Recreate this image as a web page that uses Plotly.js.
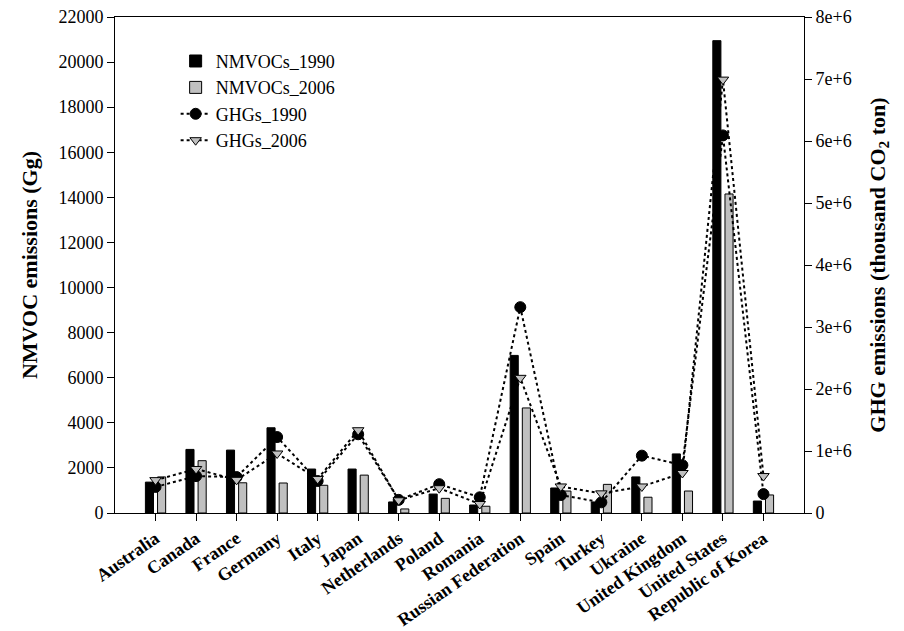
<!DOCTYPE html>
<html>
<head>
<meta charset="utf-8">
<script src="https://cdn.plot.ly/plotly-3.0.1.min.js"></script>
<style>html,body{margin:0;padding:0;background:#fff;}#chart{width:904px;height:631px;}</style>
</head>
<body>
<div id="chart"></div>
<script>
const countries = ["Australia","Canada","France","Germany","Italy","Japan","Netherlands","Poland","Romania","Russian Federation","Spain","Turkey","Ukraine","United Kingdom","United States","Republic of Korea"];
const nmvoc1990 = [1370, 2820, 2790, 3780, 1950, 1950, 490, 840, 355, 6990, 1110, 490, 1600, 2620, 20950, 530];
const nmvoc2006 = [1600, 2320, 1340, 1330, 1230, 1680, 180, 650, 300, 4660, 975, 1270, 700, 975, 14150, 800];
const ghg1990 = [420000, 595000, 580000, 1225000, 516000, 1270000, 212000, 465000, 253000, 3320000, 290000, 172000, 925000, 772000, 6090000, 305000];
const ghg2006 = [530000, 710000, 535000, 960000, 550000, 1335000, 205000, 400000, 145000, 2180000, 428000, 317000, 428000, 645000, 6990000, 596000];

const idx = countries.map((c, i) => i);
const serif = "Liberation Serif";

const traces = [
  {type: "bar", name: "NMVOCs_1990", x: idx, y: nmvoc1990, width: 0.2, offset: -0.25,
   marker: {color: "#000000", line: {color: "#000000", width: 1}}, yaxis: "y"},
  {type: "bar", name: "NMVOCs_2006", x: idx, y: nmvoc2006, width: 0.2, offset: 0.05,
   marker: {color: "#c0c0c0", line: {color: "#000000", width: 1}}, yaxis: "y"},
  {type: "scatter", mode: "lines+markers", name: "GHGs_1990", x: idx, y: ghg1990, yaxis: "y2",
   line: {color: "#000000", width: 2, dash: "dot"},
   marker: {symbol: "circle", size: 11, color: "#000000", line: {color: "#000000", width: 1}}},
  {type: "scatter", mode: "lines+markers", name: "GHGs_2006", x: idx, y: ghg2006, yaxis: "y2",
   line: {color: "#000000", width: 2, dash: "dot"},
   marker: {symbol: "triangle-down", size: 10, color: "#c0c0c0", line: {color: "#000000", width: 1}}}
];

const layout = {
  width: 904, height: 631,
  margin: {l: 115, r: 100, t: 17, b: 118},
  paper_bgcolor: "#fff", plot_bgcolor: "#fff",
  font: {family: serif, color: "#000", size: 18},
  showlegend: true,
  legend: {x: 0.088, y: 0.948, xanchor: "left", yanchor: "top", bgcolor: "rgba(0,0,0,0)",
           font: {family: serif, size: 18, color: "#000"}, tracegroupgap: 0},
  xaxis: {
    range: [-1, 16], tickmode: "array", tickvals: idx, ticktext: countries,
    tickangle: -35, ticks: "outside", ticklen: 7, tickwidth: 1, tickcolor: "#000",
    showline: true, linecolor: "#000", linewidth: 1, mirror: true,
    showgrid: false, zeroline: false,
    tickfont: {family: serif, size: 18, color: "#000", weight: "bold"}
  },
  yaxis: {
    range: [0, 22000], dtick: 2000, tick0: 0, tickformat: "d", ticks: "outside", ticklen: 7, tickcolor: "#000",
    showline: true, linecolor: "#000", linewidth: 1, showgrid: false, zeroline: false,
    tickfont: {family: serif, size: 18, color: "#000"},
    title: {text: "NMVOC emissions (Gg)", font: {family: serif, size: 22, color: "#000", weight: "bold"}, standoff: 14}
  },
  yaxis2: {
    overlaying: "y", side: "right", anchor: "x",
    range: [0, 8000000], dtick: 1000000, tick0: 0, exponentformat: "e", showexponent: "all",
    ticks: "outside", ticklen: 7, tickcolor: "#000",
    showline: true, linecolor: "#000", linewidth: 1, showgrid: false, zeroline: false,
    tickfont: {family: serif, size: 18, color: "#000"},
    title: {text: "GHG emissions (thousand CO<sub>2</sub> ton)", font: {family: serif, size: 22, color: "#000", weight: "bold"}, standoff: 18}
  },
  barmode: "overlay"
};

Plotly.newPlot("chart", traces, layout, {displayModeBar: false, staticPlot: true});
</script>
</body>
</html>
